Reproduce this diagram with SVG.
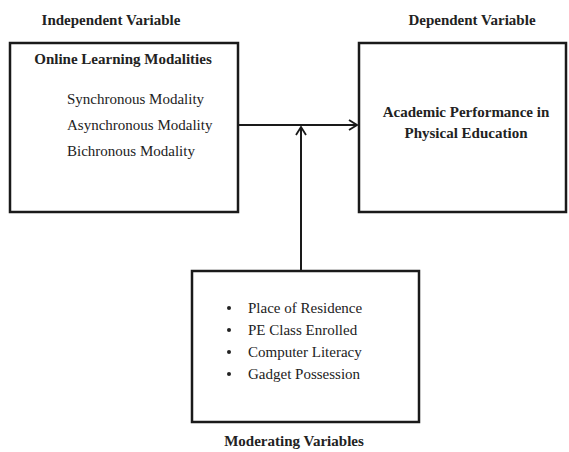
<svg xmlns="http://www.w3.org/2000/svg" width="569" height="452" viewBox="0 0 569 452">
<defs>
<style>
.box{fill:#fff;stroke:#1a1a1a;stroke-width:2.5}
.t{font-family:"Liberation Serif","Times New Roman",serif;font-size:15px;fill:#222}
.b{font-weight:bold}
.ln{stroke:#1a1a1a;stroke-width:2;fill:none}
</style>
<marker id="arr" viewBox="0 0 10 12" refX="9" refY="6" markerWidth="10" markerHeight="12" markerUnits="userSpaceOnUse" orient="auto">
<path d="M1,1 L9,6 L1,11" fill="none" stroke="#1a1a1a" stroke-width="1.8"/>
</marker>
</defs>
<rect width="569" height="452" fill="#fff"/>
<text class="t b" x="111" y="25" text-anchor="middle">Independent Variable</text>
<text class="t b" x="472" y="25" text-anchor="middle">Dependent Variable</text>
<g id="independent">
<rect class="box" x="10" y="43" width="228" height="169"/>
<text class="t b" x="123" y="64" text-anchor="middle">Online Learning Modalities</text>
<text class="t" x="67" y="104">Synchronous Modality</text>
<text class="t" x="67" y="130">Asynchronous Modality</text>
<text class="t" x="67" y="156">Bichronous Modality</text>
</g>
<g id="dependent">
<rect class="box" x="359" y="43" width="207" height="169"/>
<text class="t b" x="466" y="117" text-anchor="middle">Academic Performance in</text>
<text class="t b" x="466" y="138" text-anchor="middle">Physical Education</text>
</g>
<g id="moderating">
<rect class="box" x="192" y="271" width="227" height="151"/>
<circle cx="229" cy="308" r="2" fill="#222"/>
<circle cx="229" cy="330" r="2" fill="#222"/>
<circle cx="229" cy="352" r="2" fill="#222"/>
<circle cx="229" cy="374" r="2" fill="#222"/>
<text class="t" x="248" y="313">Place of Residence</text>
<text class="t" x="248" y="335">PE Class Enrolled</text>
<text class="t" x="248" y="357">Computer Literacy</text>
<text class="t" x="248" y="379">Gadget Possession</text>
<text class="t b" x="294" y="446" text-anchor="middle">Moderating Variables</text>
</g>
<g id="connectors">
<line class="ln" x1="238" y1="125" x2="357" y2="125" marker-end="url(#arr)"/>
<line class="ln" x1="301" y1="270" x2="301" y2="127" marker-end="url(#arr)"/>
</g>
</svg>
